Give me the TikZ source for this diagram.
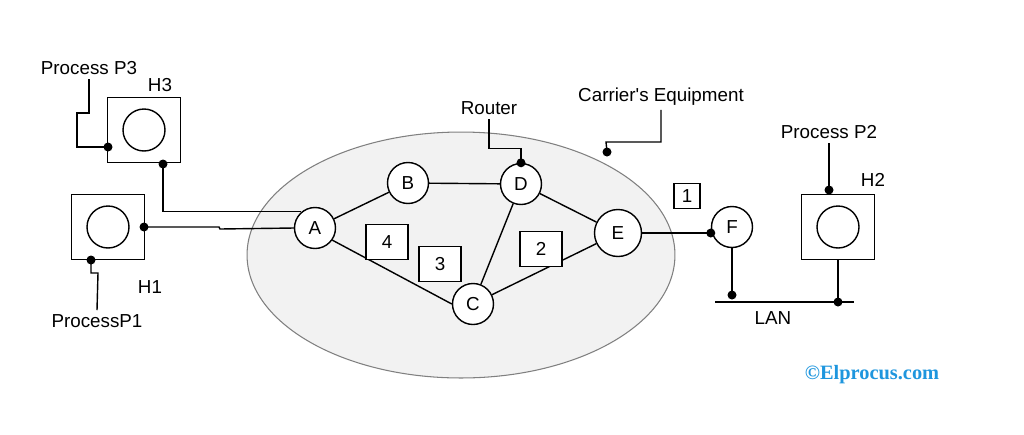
\documentclass[tikz,border=0pt]{standalone}
\usepackage{fontspec}
\setmainfont{Liberation Sans}[Ligatures=TeXOff]
\newfontfamily\markfont{Liberation Serif}
\definecolor{markblue}{RGB}{30,150,222}
\begin{document}
\begin{tikzpicture}[x=0.02cm, y=-0.02cm, font=\fontsize{10.7}{12}\selectfont, line width=0.8pt,
        station/.style={shape=circle, draw=black, fill=white, minimum size=0.82cm, inner sep=0pt},
        hostbox/.style={shape=rectangle, draw=black, fill=white, minimum width=1.46cm, minimum height=1.3cm},
        hostdisk/.style={shape=circle, draw=black, minimum size=0.84cm},
        packet/.style={shape=rectangle, draw=black, fill=white, minimum width=0.84cm, minimum height=0.7cm},
        dot/.style={shape=circle, fill=black, minimum size=0.18cm, inner sep=0pt},
        tag/.style={inner sep=2pt}]
    \useasboundingbox[fill=white] (0,0) rectangle (1024,434);
    % carrier's network
    \draw[gray, fill=gray!10, line width=0.6pt] (461,255) ellipse [x radius=4.28cm, y radius=2.46cm];
    \node[name=A, station] at (315,228) {A};
    \node[name=B, station] at (408,183) {B};
    \node[name=D, station] at (521,184) {D};
    \node[name=C, station] at (473,304) {C};
    \node[name=E, station, minimum size=0.94cm] at (618,233) {E};
    \node[name=F, station] at (732,227) {F};
    \draw (A) -- (B);
    \draw (B) -- (D);
    \draw (D) -- (E);
    \draw (D) -- (C);
    \draw (A.-35) -- (C.west);
    \draw (C) -- (E);
    \node[name=pk4, packet] at (387,242) {4};
    \node[name=pk3, packet] at (440,264) {3};
    \node[name=pk2, packet] at (541,249) {2};
    \node[name=pk1, packet, minimum width=0.52cm, minimum height=0.48cm] at (687,196) {1};
    % hosts
    \node[name=H3, hostbox] at (144,130) {};
    \node[name=H3disk, hostdisk] at (H3.center) {};
    \node[name=H1, hostbox] at (108,227) {};
    \node[name=H1disk, hostdisk] at (H1.center) {};
    \node[name=H2, hostbox] at (838,227) {};
    \node[name=H2disk, hostdisk] at (H2.center) {};
    \node[name=H3lbl, tag] at (160,85) {H3};
    \node[name=H1lbl, tag] at (150,287) {H1};
    \node[name=H2lbl, tag] at (873,180) {H2};
    % processes
    \node[name=p3, tag] at (89,68) {Process P3};
    \node[name=p1, tag] at (97,321) {ProcessP1};
    \node[name=p2, tag] at (829,132) {Process P2};
    \node[name=h3l, dot] at (108,147) {};
    \node[name=h3b, dot] at (163,164) {};
    \node[name=h1r, dot] at (144,227) {};
    \node[name=h1b, dot] at (91,260) {};
    \node[name=h2t, dot] at (829,190) {};
    \draw (h3l.center) -- ++(-31,0) -- ++(0,-34) -- ++(12,0) -- (p3.south);
    \draw (h1b.center) -- ++(0,13) -- ++(7,0) -- (p1.north);
    \draw (h2t.center) -- (p2.south);
    \draw (h3b.center) |- (A.130);
    \draw (h1r.center) -- ++(75,0) -- ++(1,2) -- (A.west);
    % router and carrier labels
    \node[name=router, tag] at (489,108) {Router};
    \node[name=dtop, dot] at (D.north) {};
    \draw (router.south) |- ++(32,30) -- (dtop.center);
    \node[name=carrier, tag] at (661,97) {Carrier's Equipment};
    \node[name=cdot, dot] at (607,152) {};
    \draw (carrier.south) |- ++(-55,32) -- (cdot.center);
    % LAN
    \node[name=fw, dot] at (F.west |- E.east) {};
    \draw (E.east) -- (fw.center);
    \coordinate (lanl) at (715,302);
    \coordinate (lanr) at (854,302);
    \draw (lanl) -- (lanr);
    \node[name=fdot, dot] at (732,295) {};
    \node[name=h2b, dot] at (H2.south |- lanl) {};
    \draw (F) -- (fdot.center);
    \draw (H2.south) -- (h2b.center);
    \node[name=lan, tag] at (773,318) {LAN};
    % watermark
    \node[name=mark, tag, text=markblue, font=\markfont\bfseries\fontsize{11.6}{13}\selectfont] at (872,375) {\textcopyright Elprocus.com};
\end{tikzpicture}
\end{document}
